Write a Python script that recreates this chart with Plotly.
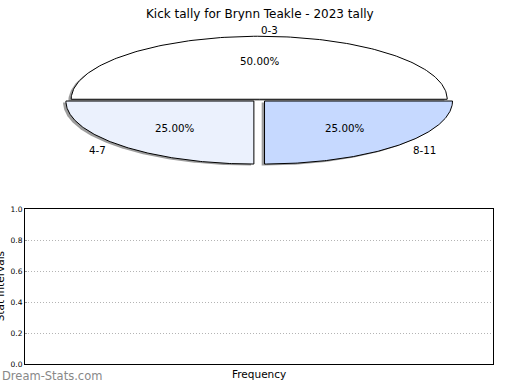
import numpy as np
import plotly.graph_objects as go

# ---- data ----
chart_title = "Kick tally for Brynn Teakle - 2023 tally"
labels = ["0-3", "4-7", "8-11"]
values = [50, 25, 25]
colors = ["#FFFFFF", "#EBF1FD", "#C6D9FF"]
explode = [0.0, 0.04, 0.04]
y_ticks = [0.0, 0.2, 0.4, 0.6, 0.8, 1.0]
x_label = "Frequency"
y_label = "Stat Intervals"
watermark = "Dream-Stats.com"

# ---- layout constants (pixels) ----
W, H = 520, 390
PIE_CX, PIE_CY = 259.2, 97.5     # pie centre in px
PIE_RX, PIE_RY = 188.0, 64.5     # radius in px (squashed pie)
AX_L, AX_R, AX_T, AX_B = 25, 493, 210, 369
FONT = "DejaVu Sans"

fig = go.Figure()

total = float(sum(values))
wedges = []
start = 0.0
for lab, v, c, e in zip(labels, values, colors, explode):
    t1 = start
    t2 = start + 360.0 * v / total
    mid = np.radians((t1 + t2) / 2.0)
    ox, oy = e * np.cos(mid), e * np.sin(mid)
    arc = np.radians(np.linspace(t1, t2, 160))
    xs = np.concatenate([[ox], ox + np.cos(arc), [ox]])
    ys = np.concatenate([[oy], oy + np.sin(arc), [oy]])
    wedges.append((lab, v, c, mid, ox, oy, xs, ys))
    start = t2

# shadows
for lab, v, c, mid, ox, oy, xs, ys in wedges:
    fig.add_trace(go.Scatter(x=xs - 0.015, y=ys - 0.025, mode="lines", fill="toself",
                             fillcolor="rgba(60,60,60,0.5)", line=dict(width=0),
                             xaxis="x2", yaxis="y2", hoverinfo="skip", showlegend=False))
# wedges
for lab, v, c, mid, ox, oy, xs, ys in wedges:
    fig.add_trace(go.Scatter(x=xs, y=ys, mode="lines", fill="toself", fillcolor=c,
                             line=dict(color="black", width=1),
                             xaxis="x2", yaxis="y2", name=lab, showlegend=False))

annotations = []
for lab, v, c, mid, ox, oy, xs, ys in wedges:
    px_ = ox + 0.6 * np.cos(mid)
    py_ = oy + 0.6 * np.sin(mid)
    annotations.append(dict(x=px_, y=py_, xref="x2", yref="y2", text="%.2f%%" % (100.0 * v / total),
                            showarrow=False, xanchor="center", yanchor="middle",
                            font=dict(size=10.3, color="black", family=FONT)))
    lx = ox + 1.1 * np.cos(mid)
    ly = oy + 1.1 * np.sin(mid)
    annotations.append(dict(x=lx, y=ly, xref="x2", yref="y2", text=lab, showarrow=False,
                            xanchor="left" if lx > 0 else "right", yanchor="middle",
                            font=dict(size=10.3, color="black", family=FONT)))

# empty trace for the bottom axes
fig.add_trace(go.Scatter(x=[], y=[], xaxis="x", yaxis="y", showlegend=False))

annotations.append(dict(x=(AX_L + AX_R) / 2 / W, y=1 - 379 / H, xref="paper", yref="paper",
                        text=x_label, showarrow=False, xanchor="center", yanchor="middle",
                        font=dict(size=10.5, color="black", family=FONT)))
annotations.append(dict(x=-0.5 / W, y=1 - (AX_T + AX_B) / 2 / H, xref="paper", yref="paper",
                        text=y_label, showarrow=False, textangle=-90, xanchor="center",
                        yanchor="middle", font=dict(size=10.5, color="black", family=FONT)))
annotations.append(dict(x=0, y=1 - 381 / H, xref="paper", yref="paper", text=watermark,
                        showarrow=False, xanchor="left", yanchor="middle",
                        font=dict(size=11.5, color="#888888", family=FONT)))
annotations.append(dict(x=0.5, y=1 - 10 / H, xref="paper", yref="paper", text=chart_title,
                        showarrow=False, xanchor="center", yanchor="middle",
                        font=dict(size=12, color="black", family=FONT)))

fig.update_layout(
    width=W, height=H,
    margin=dict(l=0, r=0, t=0, b=0),
    paper_bgcolor="white", plot_bgcolor="rgba(0,0,0,0)",
    showlegend=False,
    font=dict(family=FONT, color="black"),
    xaxis=dict(domain=[AX_L / W, AX_R / W], range=[0, 1], showticklabels=False, ticks="",
               showgrid=False, zeroline=False, showline=True, mirror=True,
               linecolor="black", linewidth=1, anchor="y"),
    yaxis=dict(domain=[1 - AX_B / H, 1 - AX_T / H], range=[0, 1], tickvals=y_ticks,
               ticktext=["%.1f" % t for t in y_ticks], ticks="inside", ticklen=2,
               tickcolor="#999999", tickfont=dict(size=7.5, color="black", family=FONT),
               showgrid=True, gridcolor="#b4b4b4", griddash="1px,2px", gridwidth=1,
               zeroline=False, showline=True, mirror=True, linecolor="black",
               linewidth=1, anchor="x"),
    xaxis2=dict(domain=[0, 1], range=[-PIE_CX / PIE_RX, (W - PIE_CX) / PIE_RX],
                visible=False, anchor="y2"),
    yaxis2=dict(domain=[0, 1], range=[-(H - PIE_CY) / PIE_RY, PIE_CY / PIE_RY],
                visible=False, anchor="x2"),
    annotations=annotations,
)

fig.write_html("out.html")
